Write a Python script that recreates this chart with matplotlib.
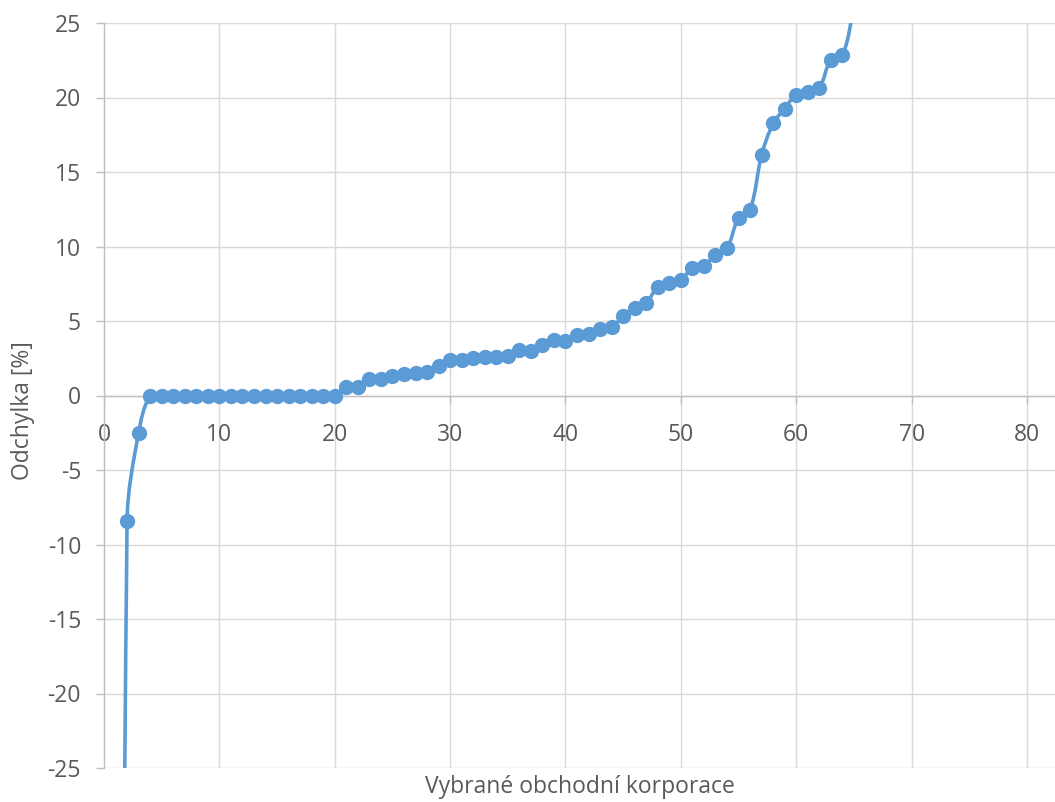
import numpy as np
import matplotlib
matplotlib.use('Agg')
import matplotlib.pyplot as plt
from matplotlib.path import Path
from matplotlib.patches import PathPatch

# poradi korporace a odchylka v %
korporace = list(range(1, 66))
odchylka = ([-150.0, -8.4, -2.5] + [0.0] * 17 +
            [0.56, 0.6, 1.12, 1.12, 1.28, 1.41, 1.5, 1.61, 2.0, 2.4,
             2.35, 2.53, 2.57, 2.57, 2.68, 3.06, 2.97, 3.36, 3.74, 3.69,
             4.03, 4.1, 4.45, 4.6, 5.31, 5.89, 6.2, 7.31, 7.53, 7.76,
             8.56, 8.71, 9.44, 9.89, 11.92, 12.47, 16.14, 18.26, 19.26, 20.2,
             20.38, 20.65, 22.54, 22.83] +
            [26.0])

x_ticks = list(range(0, 81, 10))
y_ticks = list(range(-25, 26, 5))

BLUE = '#5B9BD5'
TXT = '#595959'
AX = '#BFBFBF'
GRID = '#D9D9D9'

plt.rcParams['font.family'] = ['Open Sans', 'DejaVu Sans']
plt.rcParams['axes.unicode_minus'] = False


def excel_smooth(ax, xs, ys):
    # bezier in display space, control vectors along neighbour tangent
    pts = ax.transData.transform(np.column_stack([xs, ys]))
    n = len(pts)
    tang = []
    for i in range(n):
        a = pts[max(i - 1, 0)]
        b = pts[min(i + 1, n - 1)]
        t = b - a
        tang.append(t / np.hypot(*t))
    verts = [pts[0]]
    codes = [Path.MOVETO]
    for i in range(n - 1):
        L = np.hypot(*(pts[i + 1] - pts[i])) / 3.0
        c1 = pts[i] + tang[i] * L
        c2 = pts[i + 1] - tang[i + 1] * L
        verts += [c1, c2, pts[i + 1]]
        codes += [Path.CURVE4] * 3
    verts = ax.transData.inverted().transform(np.array(verts))
    return Path(verts, codes)


fig = plt.figure(figsize=(10.55, 8.02), dpi=100)
ax = fig.add_axes([104 / 1055, 34 / 802, 951 / 1055, 745 / 802])
ax.set_xlim(0, 82.43)
ax.set_ylim(-25, 25)

ax.set_xticks(x_ticks)
ax.set_yticks(y_ticks)
ax.grid(True, color=GRID, linewidth=1.0)
ax.set_axisbelow(True)

for s in ['top', 'right']:
    ax.spines[s].set_visible(False)
ax.spines['bottom'].set_position(('data', 0))
ax.spines['bottom'].set_color(AX)
ax.spines['left'].set_color(AX)
ax.spines['bottom'].set_linewidth(1.0)
ax.spines['left'].set_linewidth(1.0)

ax.tick_params(axis='both', direction='out', length=5.5, width=1.0,
               color=AX, labelcolor=TXT, labelsize=16.5)
ax.tick_params(axis='x', pad=14)
ax.tick_params(axis='y', pad=11)

path = excel_smooth(ax, korporace, odchylka)
ax.add_patch(PathPatch(path, facecolor='none', edgecolor=BLUE, linewidth=2.6,
                       capstyle='round', zorder=2))
ax.plot(korporace, odchylka, 'o', color=BLUE, markersize=10, zorder=3)

ax.set_xlabel('Vybrané obchodní korporace', fontsize=16.5, color=TXT)
ax.xaxis.set_label_coords(0.5, -0.01)
ax.set_ylabel('Odchylka [%]', fontsize=16.5, color=TXT)
ax.yaxis.set_label_coords(-0.073, 0.48)

fig.savefig('out.png', dpi=100)
